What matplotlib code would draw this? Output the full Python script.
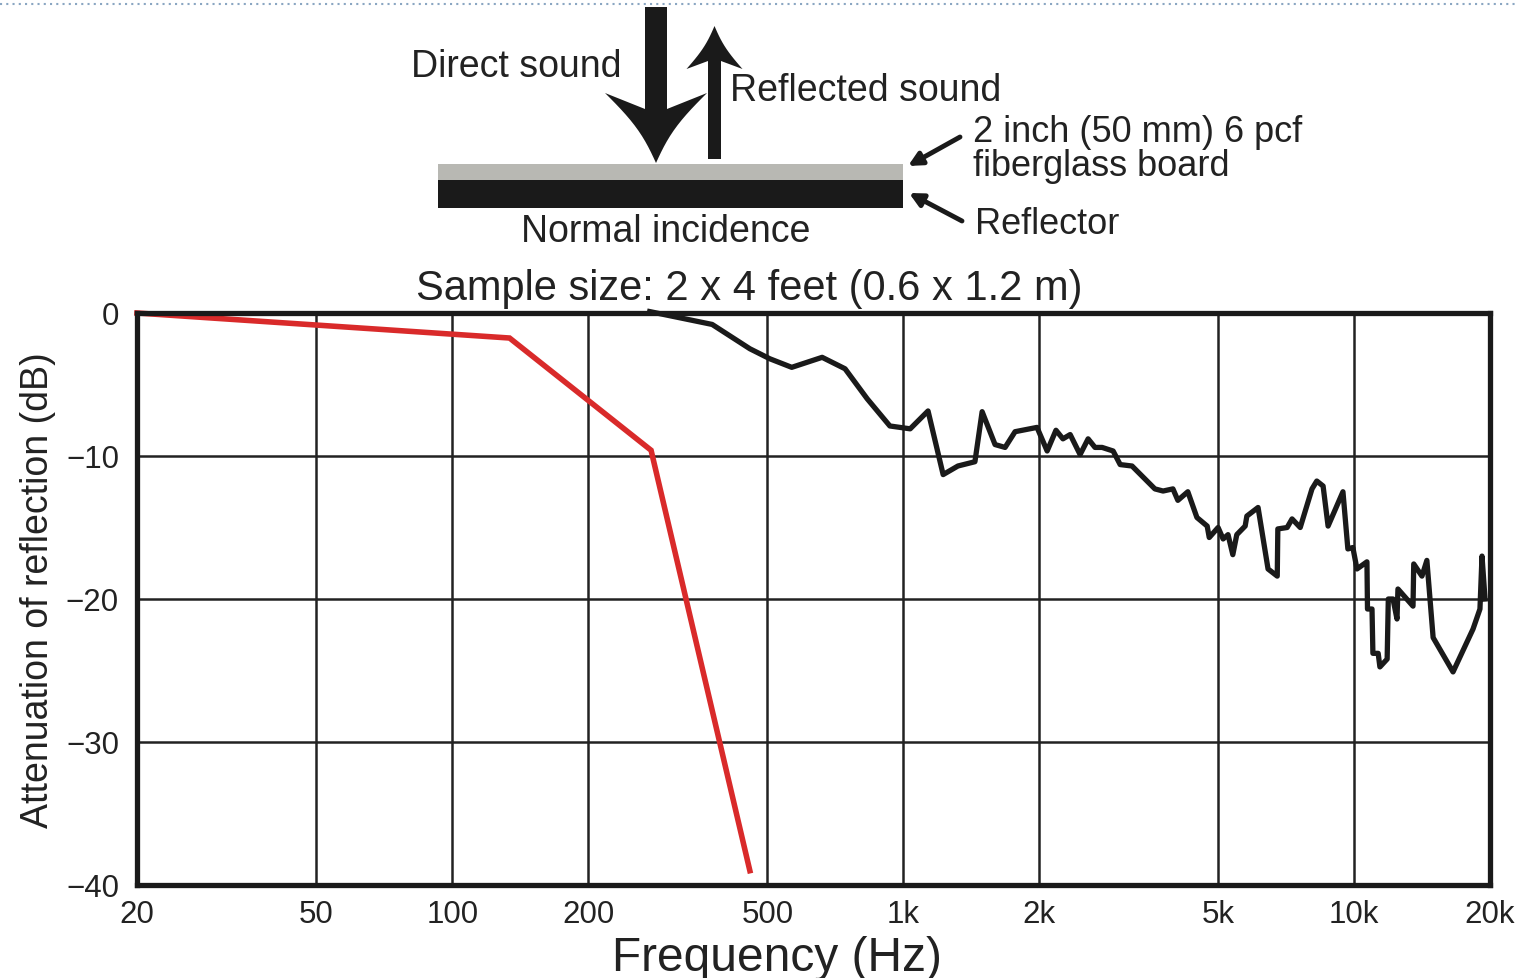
import matplotlib
matplotlib.use("Agg")
import matplotlib.pyplot as plt
import numpy as np
from matplotlib.patches import Polygon, Rectangle

plt.rcParams['font.family'] = ['Liberation Sans', 'DejaVu Sans']

# ---------------- data ----------------
red_freq = [20, 134, 276, 457]
red_db = [0.0, -1.75, -9.6, -39.0]

black_freq = [274, 377, 457, 506, 566, 661, 743, 832, 934, 1036, 1135, 1226, 1322, 1442,
              1496, 1598, 1682, 1770, 1980, 2085, 2181, 2260, 2345, 2467, 2570, 2662, 2760,
              2920, 3027, 3216, 3614, 3768, 3963, 4064, 4276, 4479, 4720, 4770, 4990, 5120,
              5250, 5380, 5490, 5730, 5780, 6120, 6440, 6750, 6770, 7100, 7280, 7590, 8060,
              8260, 8530, 8750, 9440, 9680, 9930, 10140, 10670, 10700, 10950, 11000, 11300,
              11400, 11830, 11900, 12190, 12440, 12500, 13500, 13550, 14130, 14490, 14960,
              16560, 18340, 19000, 19200, 19500]
black_db = [0.1, -0.8, -2.5, -3.2, -3.8, -3.1, -3.9, -6.0, -7.9, -8.1, -6.85, -11.3, -10.7, -10.4,
            -6.9, -9.2, -9.4, -8.3, -8.0, -9.65, -8.2, -8.8, -8.5, -9.9, -8.8, -9.4, -9.4,
            -9.65, -10.6, -10.7, -12.3, -12.45, -12.3, -13.1, -12.5, -14.3, -14.9, -15.7, -15.0, -15.8,
            -15.5, -16.9, -15.5, -14.9, -14.2, -13.6, -17.9, -18.4, -15.1, -15.0, -14.4, -15.0, -12.3,
            -11.75, -12.1, -14.9, -12.5, -16.5, -16.4, -17.9, -17.4, -20.7, -20.7, -23.8, -23.8,
            -24.75, -24.2, -20.0, -20.0, -21.4, -19.3, -20.5, -17.55, -18.4, -17.3, -22.7,
            -25.1, -22.1, -20.7, -17.0, -20.0]

x_ticks = [20, 50, 100, 200, 500, 1000, 2000, 5000, 10000, 20000]
x_tick_labels = ['20', '50', '100', '200', '500', '1k', '2k', '5k', '10k', '20k']
y_ticks = [0, -10, -20, -30, -40]
y_tick_labels = ['0', '\u221210', '\u221220', '\u221230', '\u221240']

W, H = 1517, 979
fig = plt.figure(figsize=(W / 100, H / 100), dpi=100)

# ---------------- chart ----------------
ax = fig.add_axes([137 / W, 1 - 886 / H, (1490 - 137) / W, (886 - 314) / H])
ax.set_xscale('log')
ax.set_xlim(20, 20000)
ax.set_ylim(-40, 0)
ax.set_xticks(x_ticks)
ax.set_xticklabels(x_tick_labels)
ax.minorticks_off()
ax.set_yticks(y_ticks)
ax.set_yticklabels(y_tick_labels)
ax.tick_params(axis='both', length=0, labelsize=22.5, colors='#222222')
ax.tick_params(axis='x', pad=10)
ax.tick_params(axis='y', pad=13)
ax.grid(True, color='#222222', linewidth=1.8)
for s in ax.spines.values():
    s.set_linewidth(3.8)
    s.set_color('#1a1a1a')
    s.set_zorder(5)

ax.plot(red_freq, red_db, color='#d92a2a', lw=4.0, solid_joinstyle='miter', zorder=3, clip_on=False)
ax.plot(black_freq, black_db, color='#1a1a1a', lw=3.8, zorder=4, clip_on=False)

fig.text(777 / W, 1 - 959 / H, 'Frequency (Hz)', ha='center', va='center', fontsize=34.5, color='#222222')
fig.text(38 / W, 1 - 590 / H, 'Attenuation of reflection (dB)', ha='center', va='center',
         rotation=90, fontsize=27, color='#222222')
fig.text(749 / W, 1 - 289 / H, 'Sample size: 2 x 4 feet (0.6 x 1.2 m)', ha='center', va='center',
         fontsize=30, color='#222222')

# ---------------- diagram (pixel coordinate overlay) ----------------
dax = fig.add_axes([0, 0, 1, 1])
dax.set_xlim(0, W)
dax.set_ylim(H, 0)
dax.axis('off')
dax.set_zorder(-1)

# top dotted line
dax.plot([0, W], [5, 5], color='#8aa6c2', lw=1.5, ls=(0, (1, 2)))

# board layers
dax.add_patch(Rectangle((438, 165), 465, 16, facecolor='#b8b8b3', edgecolor='none'))
dax.add_patch(Rectangle((438, 181), 465, 28, facecolor='#1a1a1a', edgecolor='none'))


def concave_head(tipx, tipy, half_w, barb_y, join_y, shaft_half, bow_amt):
    t = np.linspace(0, 1, 14)
    ly = barb_y + (tipy - barb_y) * t
    bow = bow_amt * np.sin(np.pi * t)
    lx = (tipx - half_w) + half_w * t + bow
    rx = (tipx + half_w) - half_w * t - bow
    pts = [(tipx - shaft_half, join_y)]
    pts += list(zip(lx, ly))
    pts += list(zip(rx[::-1][1:], ly[::-1][1:]))
    pts += [(tipx + shaft_half, join_y)]
    return pts

# down arrow
head_d = concave_head(656, 164, 51, 94, 110, 11, 6)
poly_d = [(667, 8), (645, 8)] + head_d
dax.add_patch(Polygon(poly_d, closed=True, facecolor='#1a1a1a', edgecolor='none'))

# up arrow
head_u = concave_head(714.5, 27, 28, 70, 62, 6.5, 3)
poly_u = [(721, 160), (708, 160)] + head_u
dax.add_patch(Polygon(poly_u, closed=True, facecolor='#1a1a1a', edgecolor='none'))

# small pointer arrows
dax.annotate('', xy=(908, 167), xytext=(960, 138),
             arrowprops=dict(arrowstyle='-|>,head_length=0.8,head_width=0.4', lw=3.5, color='#1a1a1a',
                             shrinkA=0, shrinkB=0))
dax.annotate('', xy=(909, 194), xytext=(962, 222),
             arrowprops=dict(arrowstyle='-|>,head_length=0.8,head_width=0.4', lw=3.5, color='#1a1a1a',
                             shrinkA=0, shrinkB=0))

tc = '#222222'
dax.text(516, 67, 'Direct sound', ha='center', va='center', fontsize=27, color=tc)
dax.text(866, 91, 'Reflected sound', ha='center', va='center', fontsize=27, color=tc)
dax.text(973, 132, '2 inch (50 mm) 6 pcf', ha='left', va='center', fontsize=26, color=tc)
dax.text(973, 166, 'fiberglass board', ha='left', va='center', fontsize=26, color=tc)
dax.text(975, 225, 'Reflector', ha='left', va='center', fontsize=26, color=tc)
dax.text(666, 232, 'Normal incidence', ha='center', va='center', fontsize=27, color=tc)

fig.savefig('out.png', dpi=100, facecolor='white')
